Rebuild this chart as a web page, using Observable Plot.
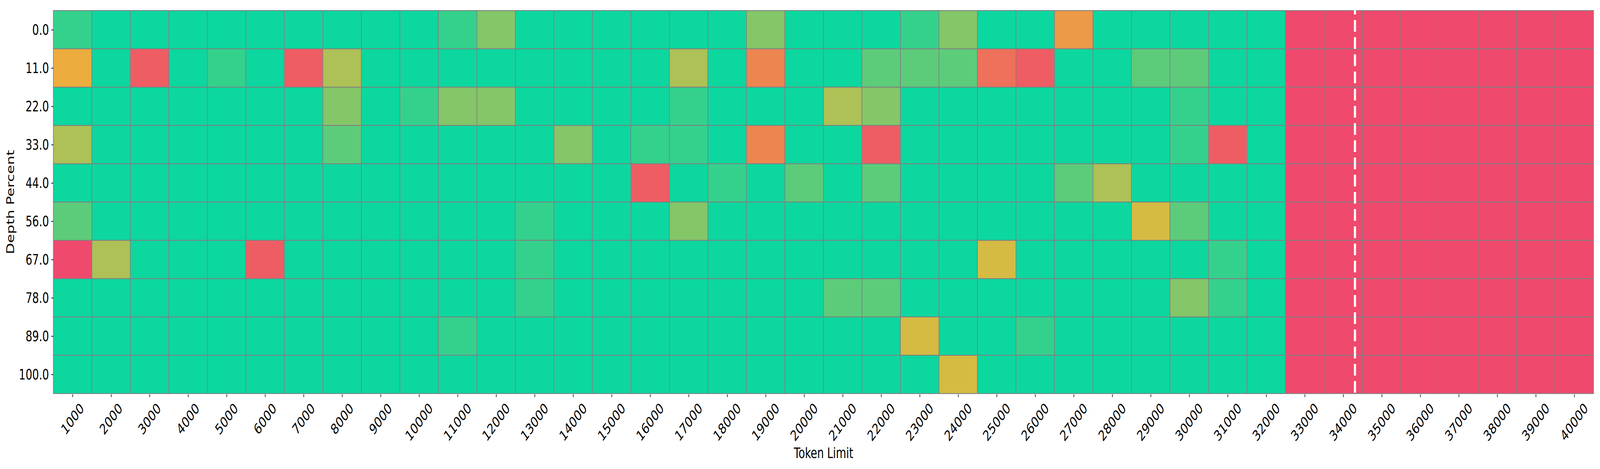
<!DOCTYPE html>
<html>
<head>
<meta charset="utf-8">
<script src="https://cdn.jsdelivr.net/npm/d3@7"></script>
<script src="https://cdn.jsdelivr.net/npm/@observablehq/plot@0.6"></script>
<style>
  html, body { margin: 0; padding: 0; background: #ffffff; overflow: hidden; }
  #chart { width: 100vw; height: 100vh; }
  #chart svg { display: block; width: 100vw !important; height: 100vh !important; max-width: none !important; }
</style>
</head>
<body>
<div id="chart"></div>
<script>
// Token limits (columns) and depth percents (rows)
const tokenLimits = [1000, 2000, 3000, 4000, 5000, 6000, 7000, 8000, 9000, 10000,
  11000, 12000, 13000, 14000, 15000, 16000, 17000, 18000, 19000, 20000,
  21000, 22000, 23000, 24000, 25000, 26000, 27000, 28000, 29000, 30000,
  31000, 32000, 33000, 34000, 35000, 36000, 37000, 38000, 39000, 40000];
const depthLabels = ["0.0", "11.0", "22.0", "33.0", "44.0", "56.0", "67.0", "78.0", "89.0", "100.0"];

// Scores (0-10) per depth row, one value per token limit
const s0 = [9.1, 10, 10, 10, 10, 10, 10, 10, 10, 10,
  9.1, 7.3, 10, 10, 10, 10, 10, 10, 7.3, 10,
  10, 10, 9.1, 7.3, 10, 10, 3.6, 10, 10, 10,
  10, 10, 0, 0, 0, 0, 0, 0, 0, 0];
const s11 = [4.5, 10, 0.9, 10, 9.1, 10, 0.9, 6.4, 10, 10,
  10, 10, 10, 10, 10, 10, 6.4, 10, 2.7, 10,
  10, 8.2, 8.2, 8.2, 1.8, 0.9, 10, 10, 8.2, 8.2,
  10, 10, 0, 0, 0, 0, 0, 0, 0, 0];
const s22 = [10, 10, 10, 10, 10, 10, 10, 7.3, 10, 9.1,
  7.3, 7.3, 10, 10, 10, 10, 9.1, 10, 10, 10,
  6.4, 7.3, 10, 10, 10, 10, 10, 10, 10, 9.1,
  10, 10, 0, 0, 0, 0, 0, 0, 0, 0];
const s33 = [6.4, 10, 10, 10, 10, 10, 10, 8.2, 10, 10,
  10, 10, 10, 7.3, 10, 9.1, 9.1, 10, 2.7, 10,
  10, 0.9, 10, 10, 10, 10, 10, 10, 10, 9.1,
  0.9, 10, 0, 0, 0, 0, 0, 0, 0, 0];
const s44 = [10, 10, 10, 10, 10, 10, 10, 10, 10, 10,
  10, 10, 10, 10, 10, 0.9, 10, 9.1, 10, 8.2,
  10, 8.2, 10, 10, 10, 10, 8.2, 6.4, 10, 10,
  10, 10, 0, 0, 0, 0, 0, 0, 0, 0];
const s56 = [8.2, 10, 10, 10, 10, 10, 10, 10, 10, 10,
  10, 10, 9.1, 10, 10, 10, 7.3, 10, 10, 10,
  10, 10, 10, 10, 10, 10, 10, 10, 5.5, 8.2,
  10, 10, 0, 0, 0, 0, 0, 0, 0, 0];
const s67 = [0, 6.4, 10, 10, 10, 0.9, 10, 10, 10, 10,
  10, 10, 9.1, 10, 10, 10, 10, 10, 10, 10,
  10, 10, 10, 10, 5.5, 10, 10, 10, 10, 10,
  9.1, 10, 0, 0, 0, 0, 0, 0, 0, 0];
const s78 = [10, 10, 10, 10, 10, 10, 10, 10, 10, 10,
  10, 10, 9.1, 10, 10, 10, 10, 10, 10, 10,
  8.2, 8.2, 10, 10, 10, 10, 10, 10, 10, 7.3,
  9.1, 10, 0, 0, 0, 0, 0, 0, 0, 0];
const s89 = [10, 10, 10, 10, 10, 10, 10, 10, 10, 10,
  9.1, 10, 10, 10, 10, 10, 10, 10, 10, 10,
  10, 10, 5.5, 10, 10, 9.1, 10, 10, 10, 10,
  10, 10, 0, 0, 0, 0, 0, 0, 0, 0];
const s100 = [10, 10, 10, 10, 10, 10, 10, 10, 10, 10,
  10, 10, 10, 10, 10, 10, 10, 10, 10, 10,
  10, 10, 10, 5.5, 10, 10, 10, 10, 10, 10,
  10, 10, 0, 0, 0, 0, 0, 0, 0, 0];

const rows = [s0, s11, s22, s33, s44, s56, s67, s78, s89, s100];
const tokenStep = 1000;
const markerToken = 34300; // dashed white marker line
const colorStops = ["#F0496E", "#EBB839", "#0CD79F"];

const cells = [];
rows.forEach((row, j) => {
  row.forEach((score, i) => {
    cells.push({depth: depthLabels[j], token: tokenLimits[i], score});
  });
});

const font = "DejaVu Sans, sans-serif";
const fs = 37.5;

const chart = Plot.plot({
  width: 5700,
  height: 1200,
  marginLeft: 190,
  marginRight: 23,
  marginTop: 24,
  marginBottom: 191,
  style: {fontFamily: font, fontSize: fs + "px", background: "#ffffff", color: "#000000"},
  x: {type: "linear", domain: [tokenLimits[0] - tokenStep / 2, tokenLimits[tokenLimits.length - 1] + tokenStep / 2], axis: null},
  y: {type: "band", domain: depthLabels, padding: 0, axis: null},
  color: {type: "linear", domain: [0, 5, 10], range: colorStops, interpolate: "rgb"},
  marks: [
    Plot.barX(cells, {
      x1: d => d.token - tokenStep / 2,
      x2: d => d.token + tokenStep / 2,
      y: "depth",
      fill: "score",
      stroke: "#808080",
      strokeWidth: 2.2,
      inset: 0
    }),
    Plot.ruleX([markerToken], {stroke: "#ffffff", strokeWidth: 7.7, strokeDasharray: "30,14", strokeDashoffset: 17}),
    Plot.axisY({tickSize: 7, tickPadding: 9, strokeWidth: 2, fontSize: fs, label: null}),
    Plot.axisX({ticks: tokenLimits, tickSize: 7, strokeWidth: 2, tickFormat: () => "", label: null}),
    Plot.text(tokenLimits.filter(t => String(t).length === 4), {
      x: d => d, text: d => String(d), frameAnchor: "bottom", rotate: -45,
      textAnchor: "middle", lineAnchor: "middle", dy: 63, fontSize: fs, fill: "#000000"
    }),
    Plot.text(tokenLimits.filter(t => String(t).length === 5), {
      x: d => d, text: d => String(d), frameAnchor: "bottom", rotate: -45,
      textAnchor: "middle", lineAnchor: "middle", dy: 71, fontSize: fs, fill: "#000000"
    }),
    Plot.text(["Depth Percent"], {
      text: d => d, frameAnchor: "left", rotate: -90, dx: -152,
      textAnchor: "middle", lineAnchor: "middle", fontSize: fs, fill: "#000000"
    }),
    Plot.text(["Token Limit"], {
      text: d => d, frameAnchor: "bottom", dy: 150,
      textAnchor: "middle", lineAnchor: "middle", fontSize: fs, fill: "#000000"
    })
  ]
});

// Fill the whole window with the 5700x1200 drawing
chart.setAttribute("viewBox", "0 0 5700 1200");
chart.setAttribute("preserveAspectRatio", "none");
document.getElementById("chart").appendChild(chart);
</script>
</body>
</html>
